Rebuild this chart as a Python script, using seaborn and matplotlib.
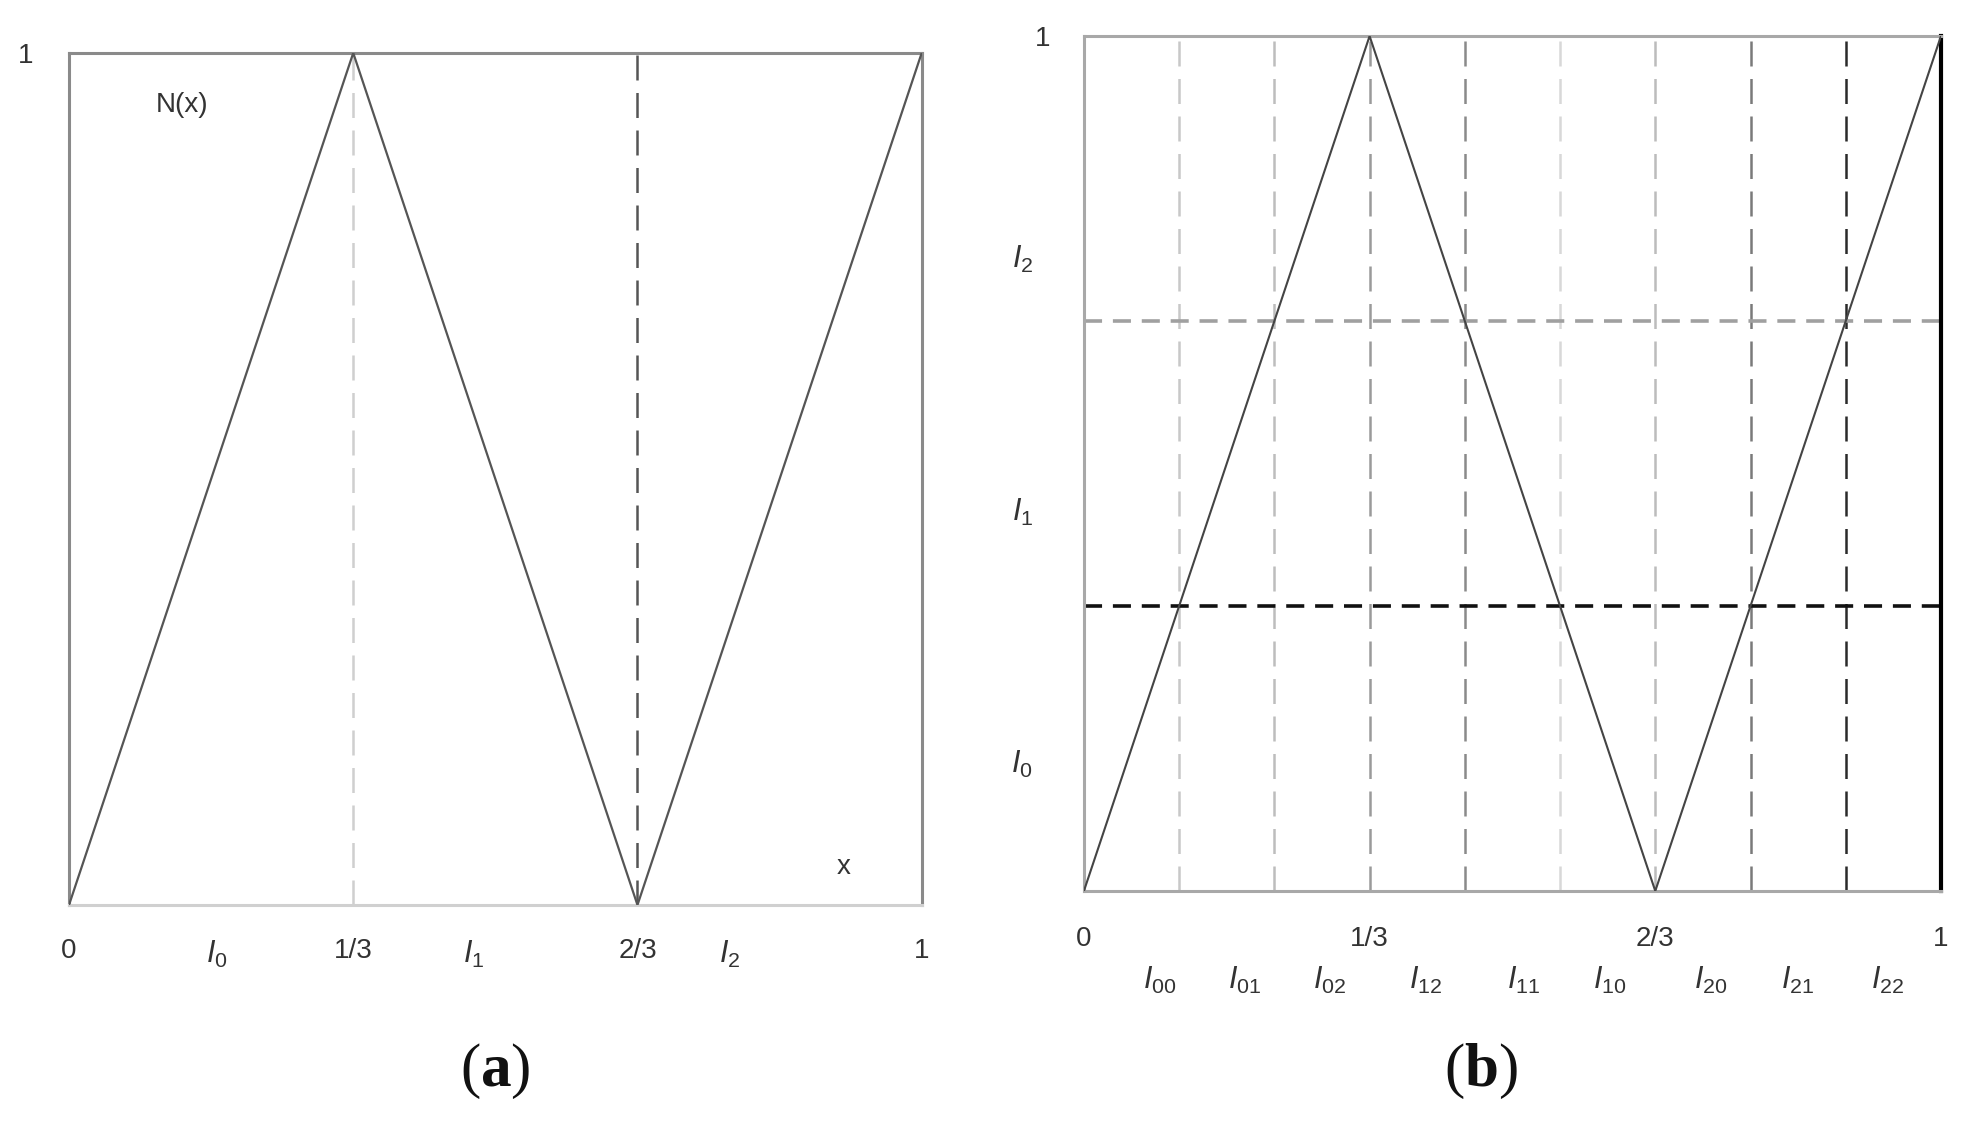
import matplotlib
matplotlib.use('Agg')
import matplotlib.pyplot as plt
import matplotlib.transforms as mtransforms
import numpy as np
import pandas as pd
import seaborn as sns

sns.set_style('white')
plt.rcParams['font.family'] = ['Liberation Sans Narrow', 'Liberation Sans', 'DejaVu Sans']
plt.rcParams['mathtext.fontset'] = 'custom'
plt.rcParams['mathtext.it'] = 'Liberation Sans:italic'
plt.rcParams['mathtext.rm'] = 'Liberation Sans'
plt.rcParams['mathtext.bf'] = 'Liberation Serif:bold'

# tent map nodes
node_x = [0, 1/3, 2/3, 1]
node_y = [0, 1, 0, 1]
tick_pos = [0, 1/3, 2/3, 1]
tick_lab = ['0', '1/3', '2/3', '1']

# panel (a) interval labels
a_int_lab = ['0', '1', '2']
a_int_x = [0.173, 0.474, 0.775]
a_vlines = [1/3, 2/3]
a_vcolors = ['#cfcfcf', '#555555']

# panel (b) interval labels
b_int_lab = ['00', '01', '02', '12', '11', '10', '20', '21', '22']
b_int_x = [0.089, 0.188, 0.287, 0.399, 0.513, 0.613, 0.731, 0.833, 0.938]
b_vlines = [1/9, 2/9, 3/9, 4/9, 5/9, 6/9, 7/9, 8/9]
b_vcolors = ['#c8c8c8', '#bdbdbd', '#9a9a9a', '#8a8a8a', '#d8d8d8', '#bcbcbc', '#7a7a7a', '#2a2a2a']
b_hlines = [2/3, 1/3]
b_hcolors = ['#a0a0a0', '#111111']
b_ylab = ['0', '1', '2']
b_ylab_y = [0.148, 0.443, 0.739]

df = pd.DataFrame({'x': node_x, 'y': node_y})

fig = plt.figure(figsize=(19.83, 11.27), dpi=100)
ax1 = fig.add_axes([0.0348, 0.197, 0.430, 0.756])
ax2 = fig.add_axes([0.5466, 0.2094, 0.4322, 0.7586])

txt_col = '#333333'

# ---- panel (a)
for xv, c in zip(a_vlines, a_vcolors):
    ax1.axvline(xv, color=c, lw=1.8, ls=(0, (10, 5)), zorder=1)
sns.lineplot(data=df, x='x', y='y', ax=ax1, color='#555555', lw=1.6, zorder=3)
ax1.set_xlim(0, 1)
ax1.set_ylim(0, 1)
ax1.set_xticks(tick_pos, tick_lab)
ax1.set_yticks([1], ['1'])
ax1.tick_params(axis='both', length=0, labelsize=20, labelcolor=txt_col)
ax1.tick_params(axis='x', pad=24)
ax1.tick_params(axis='y', pad=26)
for s in ax1.spines.values():
    s.set_color('#8a8a8a')
    s.set_linewidth(2.2)
ax1.spines['bottom'].set_color('#d0d0d0')
trans = mtransforms.blended_transform_factory(ax1.transData, ax1.transAxes)
for lab, xv in zip(a_int_lab, a_int_x):
    ax1.text(xv, -0.058, r'$\mathit{I_{%s}}$' % lab, transform=trans, ha='center',
             va='center', fontsize=22, color=txt_col)
ax1.text(0.133, 0.939, 'N(x)', fontsize=20, color=txt_col, ha='center', va='center')
ax1.text(0.908, 0.045, 'x', fontsize=20, color=txt_col, ha='center', va='center')
ax1.set_xlabel('')
ax1.set_ylabel('')

# ---- panel (b)
for xv, c in zip(b_vlines, b_vcolors):
    ax2.axvline(xv, color=c, lw=1.8, ls=(0, (10, 5)), zorder=1)
for yv, c in zip(b_hlines, b_hcolors):
    ax2.axhline(yv, color=c, lw=2.6, ls=(0, (5, 3)), zorder=2)
sns.lineplot(data=df, x='x', y='y', ax=ax2, color='#444444', lw=1.5, zorder=3)
ax2.set_xlim(0, 1)
ax2.set_ylim(0, 1)
ax2.set_xticks(tick_pos, tick_lab)
ax2.set_yticks([1], ['1'])
ax2.tick_params(axis='both', length=0, labelsize=20, labelcolor=txt_col)
ax2.tick_params(axis='x', pad=25)
ax2.tick_params(axis='y', pad=24)
for s in ax2.spines.values():
    s.set_color('#a8a8a8')
    s.set_linewidth(2.2)
ax2.spines['right'].set_color('#000000')
ax2.spines['right'].set_linewidth(3)
trans2 = mtransforms.blended_transform_factory(ax2.transData, ax2.transAxes)
for lab, xv in zip(b_int_lab, b_int_x):
    ax2.text(xv, -0.105, r'$\mathit{I_{%s}}$' % lab, transform=trans2, ha='center',
             va='center', fontsize=22, color=txt_col)
trans2y = mtransforms.blended_transform_factory(ax2.transAxes, ax2.transData)
for lab, yv in zip(b_ylab, b_ylab_y):
    ax2.text(-0.072, yv, r'$\mathit{I_{%s}}$' % lab, transform=trans2y, ha='center',
             va='center', fontsize=22, color=txt_col)
ax2.set_xlabel('')
ax2.set_ylabel('')

# captions
for xc, letter in [(0.25, 'a'), (0.747, 'b')]:
    fig.text(xc, 0.049, r'($\mathbf{%s}$)' % letter, fontsize=44,
             family='Liberation Serif', ha='center', va='center', color='#111111')

fig.savefig('out.png', dpi=100, facecolor='white')
